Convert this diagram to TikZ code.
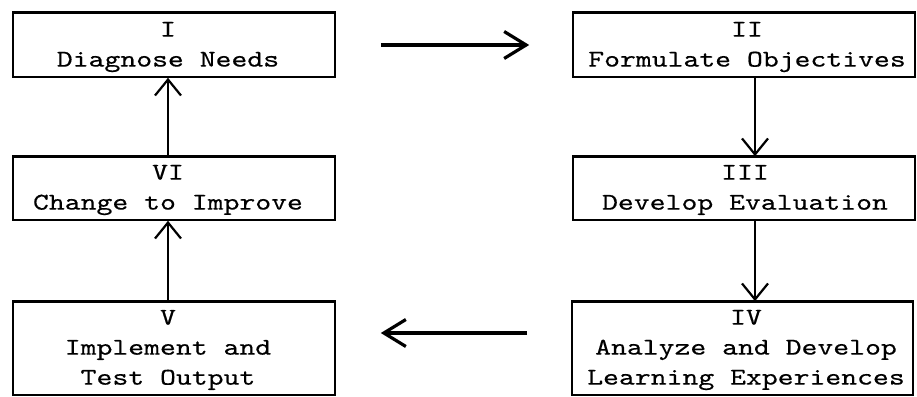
\documentclass[tikz,border=0pt]{standalone}
\usepackage{fontspec}
\usetikzlibrary{arrows.meta}
% typewriter face, widened to a 12-pitch look and inked a little heavier
\newfontfamily\tw{lmmono10-regular.otf}[FakeStretch=1.26,FakeBold=0.4]
\begin{document}
\begin{tikzpicture}[x=1pt,y=1pt,
  stagebox/.style={draw, line width=1.6pt, inner sep=0pt},
  stagetext/.style={inner sep=0pt, align=center,
    font=\tw\fontsize{24}{30}\selectfont},
  vflow/.style={line width=2.2pt,
    -{Straight Barb[length=16pt,width=26pt,line width=2.2pt]}},
  hflow/.style={line width=3.4pt,
    -{Straight Barb[length=22pt,width=27pt,line width=3.2pt]}},
  topedge/.style={line width=3pt}]
\useasboundingbox (0,0) rectangle (917,396);

% the six stage frames
\node[stagebox, minimum width=322, minimum height=64] (n1) at (174,351) {};
\node[stagebox, minimum width=342, minimum height=64] (n2) at (744,351) {};
\node[stagebox, minimum width=342, minimum height=63] (n3) at (744,207.5) {};
\node[stagebox, minimum width=341, minimum height=93] (n4) at (742.5,47.5) {};
\node[stagebox, minimum width=322, minimum height=93] (n5) at (174,47.5) {};
\node[stagebox, minimum width=322, minimum height=63] (n6) at (174,207.5) {};

% stage labels, typed slightly off the frame centres
\node[stagetext] (t1) at (168,349) {I\\Diagnose Needs};
\node[stagetext] (t2) at (747,349) {II\\Formulate Objectives};
\node[stagetext] (t3) at (745,206) {III\\Develop Evaluation};
\node[stagetext] (t4) at (746,46) {IV\\Analyze and Develop\\Learning Experiences};
\node[stagetext] (t5) at (168,46) {V\\Implement and\\Test Output};
\node[stagetext] (t6) at (168,206) {VI\\Change to Improve};

% heavier upper rules of the frames
\foreach \b in {n1,n2,n3,n4,n5,n6}
  \draw[topedge] (\b.north west) -- (\b.north east);

% columns carrying the vertical connectors
\coordinate (lc) at (168,0);
\coordinate (rc) at (755,0);

\draw[hflow] ([xshift=45]n1.east) -- ([xshift=-43]n2.west);
\draw[vflow] (rc |- n2.south) -- (rc |- n3.north);
\draw[vflow] (rc |- n3.south) -- (rc |- n4.north);
\draw[hflow] ([shift={(-44,15.5)}]n4.west) -- ([shift={(45,15.5)}]n5.east);
\draw[vflow] (lc |- n5.north) -- (lc |- n6.south);
\draw[vflow] (lc |- n6.north) -- (lc |- n1.south);
\end{tikzpicture}
\end{document}
